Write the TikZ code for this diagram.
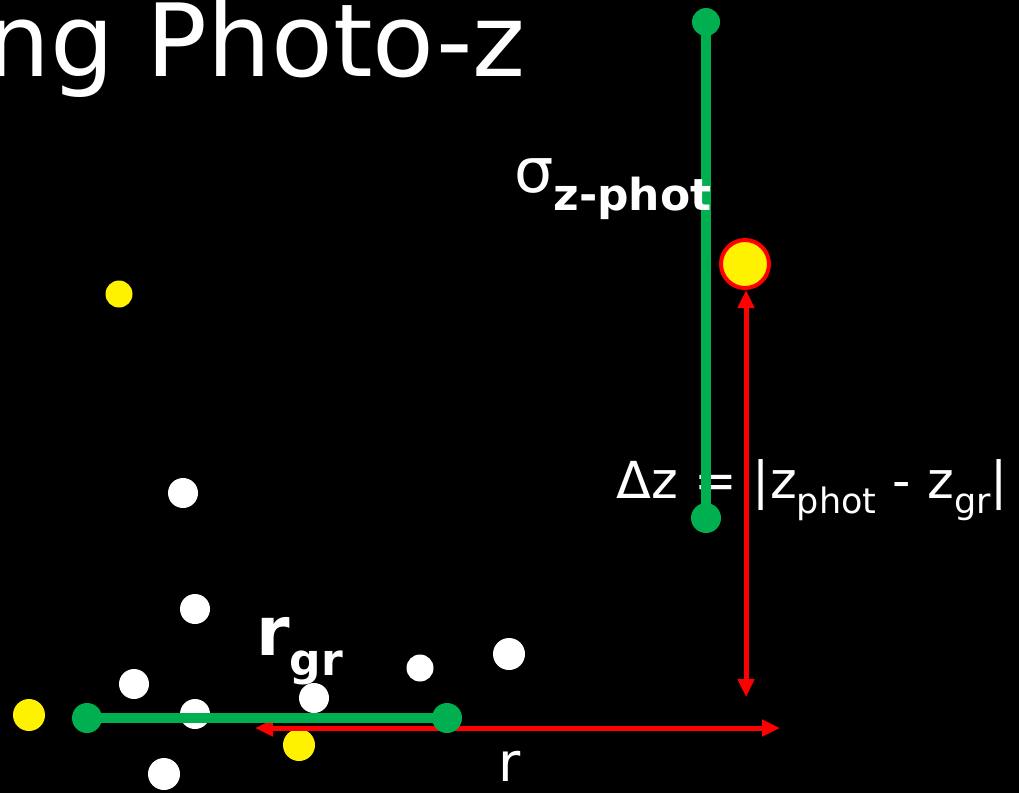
\documentclass[tikz,border=0pt]{standalone}
\usepackage{fontspec}
\setmainfont{DejaVu Sans}
\usetikzlibrary{arrows.meta}
\tikzset{
  wdot/.style={circle,fill=white,inner sep=0pt,minimum size=30pt},
  ydot/.style={circle,fill=yellow,inner sep=0pt,minimum size=28pt},
  gdot/.style={circle,fill=gline,inner sep=0pt,minimum size=30pt},
  gbar/.style={draw=gline,line width=10pt},
  rarrow/.style={draw=red,line width=5pt,{Triangle[length=18pt,width=16pt]}-{Triangle[length=18pt,width=16pt]}},
  lbl/.style={text=white,inner sep=0pt}
}
\definecolor{gline}{RGB}{0,176,80}
\newcommand{\fsz}[1]{\fontsize{#1}{#1}\selectfont}
\begin{document}
\begin{tikzpicture}[x=1pt,y=-1pt]
\fill[black] (0,0) rectangle (1019,793);
\useasboundingbox (0,0) rectangle (1019,793);
\clip (0,0) rectangle (1019,793);
% title
\node[lbl,anchor=base east] (title) at (526,76) {\fsz{101}ng Photo-z};
% dz label
\node[lbl,anchor=base west] (dz) at (616,498) {\fsz{51}Δz = |z\raisebox{-0.3em}{\fsz{35}phot} - z\raisebox{-0.3em}{\fsz{35}gr}|};
% white dots
\node[wdot] (w1) at (183,493) {};
\node[wdot] (w2) at (195,609) {};
\node[wdot] (w3) at (134,684) {};
\node[wdot] (w4) at (195,714) {};
\node[wdot] (w5) at (314,698) {};
\node[wdot,minimum size=27pt] (w6) at (420,668) {};
\node[wdot,minimum size=32pt] (w7) at (509,654) {};
\node[wdot,minimum size=32pt] (w8) at (164,774) {};
% yellow dots
\node[ydot,minimum size=27pt] (y1) at (119,294) {};
\node[ydot,minimum size=32pt] (y2) at (29,715) {};
\node[ydot,minimum size=32pt] (y3) at (299,745) {};
% big yellow
\node[circle,fill=yellow,draw=red,line width=4pt,inner sep=0pt,minimum size=48pt] (big) at (745,264) {};
% red arrows
\coordinate (rtop) at (746,290);
\coordinate (rbot) at (746,697);
\coordinate (rl) at (255,728);
\coordinate (rr) at (780,728);
\draw[rarrow] (rtop) -- (rbot);
\draw[rarrow] (rl) -- (rr);
% green bars
\node[gdot,minimum size=28pt] (gt) at (706,22) {};
\node[gdot,minimum size=30pt] (gb) at (706,518) {};
\draw[gbar] (gt.center) -- (gb.center);
\node[gdot] (gl) at (87,718) {};
\node[gdot] (gr) at (447,718) {};
\draw[gbar] (gl.center) -- (gr.center);
% labels
\node[lbl,anchor=base west] (sig) at (514,192) {\fsz{62}σ\raisebox{-0.3em}{\fsz{44}\bfseries z-phot}};
\node[lbl,anchor=base west] (rgr) at (256,655) {\fsz{68}\bfseries r\raisebox{-0.3em}{\fsz{44}gr}};
\node[lbl,anchor=base west] (r) at (498,781) {\fsz{54}r};
\end{tikzpicture}
\end{document}
